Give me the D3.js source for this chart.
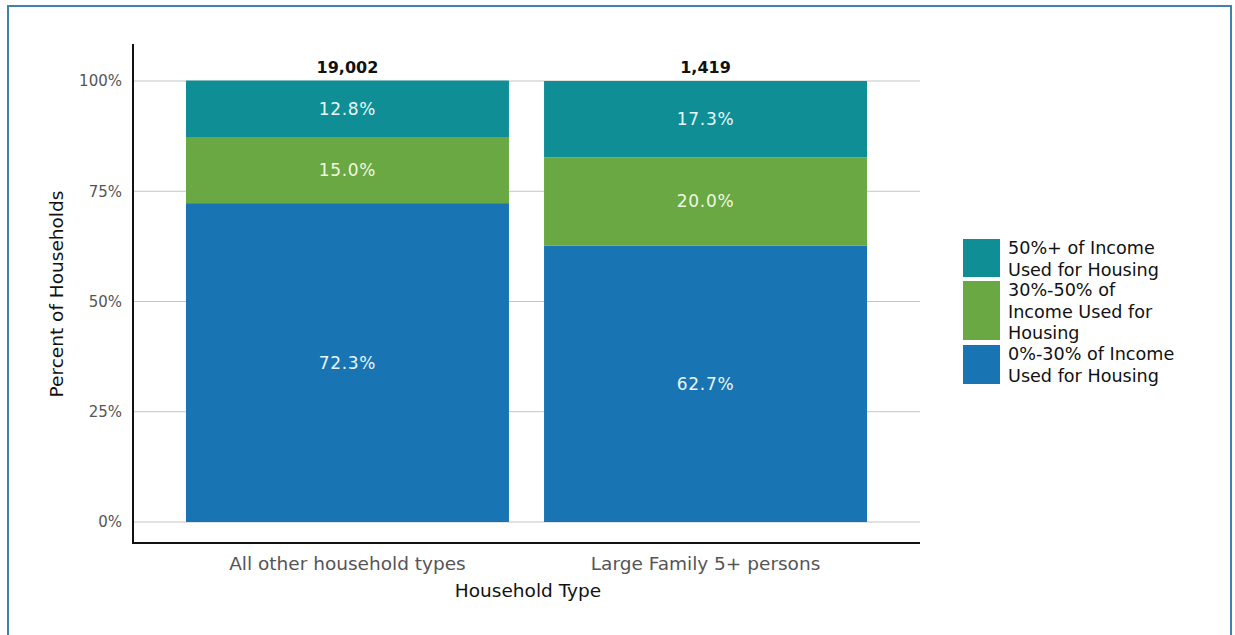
<!DOCTYPE html>
<html><head><meta charset="utf-8">
<script src="https://cdn.jsdelivr.net/npm/d3@7"></script>
<style>body{margin:0;background:#fff;} svg{display:block;font-family:"DejaVu Sans",sans-serif;} svg text{font-family:"DejaVu Sans",sans-serif;}</style>
</head><body><svg id="c" width="1235" height="635"></svg>
<script>
const categories = ["All other household types", "Large Family 5+ persons"];
const totals = ["19,002", "1,419"];
const seriesNames = ["0%-30% of Income Used for Housing", "30%-50% of Income Used for Housing", "50%+ of Income Used for Housing"];
const low = [72.3, 62.7];
const mid = [15.0, 20.0];
const high = [12.8, 17.3];
const yTicks = [0, 25, 50, 75, 100];
const legendLines = [["50%+ of Income", "Used for Housing"], ["30%-50% of", "Income Used for", "Housing"], ["0%-30% of Income", "Used for Housing"]];
const colors = ["#1874b2", "#6aa843", "#0f8f95"];

const svg = d3.select("#c");
svg.append("rect").attr("x", 8).attr("y", 6).attr("width", 1223).attr("height", 640)
  .attr("fill", "none").attr("stroke", "#3f82ad").attr("stroke-width", 2);

const x0 = 133, x1 = 920;
const y = d3.scaleLinear().domain([0, 100]).range([522, 81]);
const x = d3.scaleBand().domain(categories).range([x0, x1]).paddingInner(0.098).paddingOuter(0.148);

// gridlines
svg.append("g").selectAll("line").data(yTicks).join("line")
  .attr("x1", x0).attr("x2", x1).attr("y1", d => y(d)).attr("y2", d => y(d))
  .attr("stroke", "#c4c4c4").attr("stroke-width", 1);

const data = categories.map((c, i) => ({cat: c, s0: low[i], s1: mid[i], s2: high[i], total: totals[i]}));
const stack = d3.stack().keys(["s0", "s1", "s2"])(data);

const g = svg.append("g");
stack.forEach((layer, k) => {
  g.selectAll(null).data(layer).join("rect")
    .attr("x", d => x(d.data.cat)).attr("width", x.bandwidth())
    .attr("y", d => y(d[1])).attr("height", d => y(d[0]) - y(d[1]))
    .attr("fill", colors[k]);
  g.selectAll(null).data(layer).join("text")
    .attr("x", d => x(d.data.cat) + x.bandwidth() / 2)
    .attr("y", d => (y(d[0]) + y(d[1])) / 2 + 6)
    .attr("text-anchor", "middle").attr("fill", k === 1 ? "#eef8e0" : "#eaf6f8")
    .attr("font-size", 17).attr("letter-spacing", 0.7)
    .text(d => (d[1] - d[0]).toFixed(1) + "%");
});

// totals
svg.append("g").selectAll("text").data(data).join("text")
  .attr("x", d => x(d.cat) + x.bandwidth() / 2).attr("y", y(100) - 8)
  .attr("text-anchor", "middle").attr("font-size", 16).attr("font-weight", "bold").attr("fill", "#111")
  .text(d => d.total);

// y axis
const yAxis = d3.axisLeft(y).tickValues(yTicks).tickSize(0).tickPadding(11).tickFormat(d => d + "%");
const ya = svg.append("g").attr("transform", `translate(${x0},0)`).call(yAxis).attr("font-family", null);
ya.select(".domain").remove();
ya.selectAll("text").attr("font-size", 15).attr("fill", "#555");
svg.append("line").attr("x1", x0).attr("x2", x0).attr("y1", 44).attr("y2", 544).attr("stroke", "#111").attr("stroke-width", 2);

// x axis
const xAxis = d3.axisBottom(x).tickSize(0).tickPadding(14);
const xa = svg.append("g").attr("transform", `translate(0,543)`).call(xAxis).attr("font-family", null);
xa.select(".domain").remove();
xa.selectAll("text").attr("font-size", 18.5).attr("fill", "#555");
svg.append("line").attr("x1", x0 - 1).attr("x2", x1).attr("y1", 543).attr("y2", 543).attr("stroke", "#111").attr("stroke-width", 2);

svg.append("text").attr("x", 528).attr("y", 597).attr("text-anchor", "middle")
  .attr("font-size", 18.5).attr("fill", "#111").text("Household Type");
svg.append("text").attr("transform", "translate(63,294) rotate(-90)").attr("text-anchor", "middle")
  .attr("font-size", 18.5).attr("fill", "#111").text("Percent of Households");

// legend
const legY = [239, 281, 345];
const legH = [38, 59, 39];
const legColors = [colors[2], colors[1], colors[0]];
const lg = svg.append("g");
legendLines.forEach((lines, i) => {
  lg.append("rect").attr("x", 963).attr("y", legY[i]).attr("width", 37).attr("height", legH[i]).attr("fill", legColors[i]);
  lines.forEach((t, j) => {
    lg.append("text").attr("x", 1008).attr("y", legY[i] + 15 + j * 21.5)
      .attr("font-size", 17.6).attr("fill", "#111").text(t);
  });
});
</script></body></html>
